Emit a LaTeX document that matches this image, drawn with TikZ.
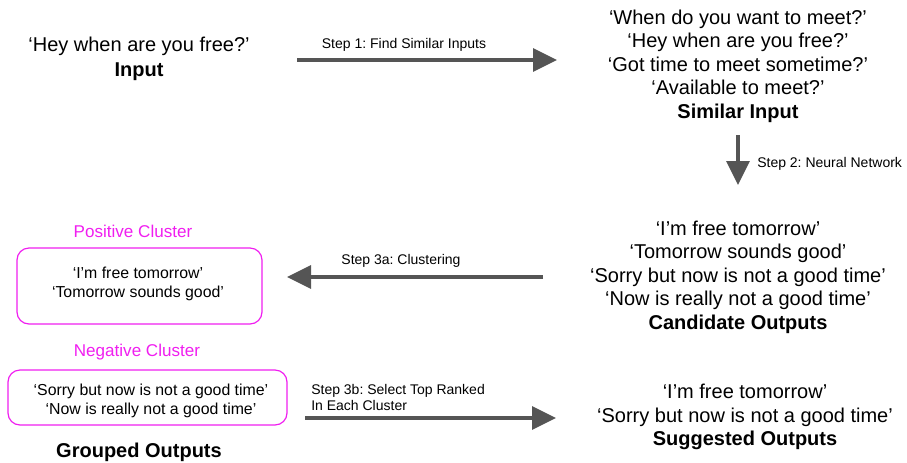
\documentclass[tikz,border=0pt]{standalone}
\usepackage{fontspec}
\setmainfont{Liberation Sans}
\usetikzlibrary{arrows.meta}
\definecolor{stepgray}{HTML}{555555}
\definecolor{clustpink}{HTML}{F01EF0}
\frenchspacing
\tikzset{
  txt/.style={align=center, font=\fontsize{15}{17.6}\selectfont, inner sep=0pt},
  small/.style={align=left, font=\fontsize{10.5}{12}\selectfont, inner sep=0pt},
  cl/.style={align=center, font=\fontsize{11.9}{13.8}\selectfont, inner sep=0pt},
  cllab/.style={font=\fontsize{12.8}{14}\selectfont, text=clustpink, inner sep=0pt},
  cluster/.style={draw=clustpink, rounded corners=9pt, line width=0.9pt},
  steparrow/.style={draw=stepgray, line width=3pt, -{Triangle[length=18pt,width=17pt]}}
}
\begin{document}
\begin{tikzpicture}[x=0.75pt, y=-0.75pt]
    \useasboundingbox (0,0) rectangle (907,462);
    \node[txt] (inp) at (139,46) {`Hey when are you free?'};
    \node[txt] (inplab) at (139,72) {\textbf{Input}};
    \node[txt] (sim) at (738,66) {`When do you want to meet?'\\ `Hey when are you free?'\\ `Got time to meet sometime?'\\ `Available to meet?'\\ \textbf{Similar Input}};
    \node[txt] (cand) at (738,277) {`I'm free tomorrow'\\ `Tomorrow sounds good'\\ `Sorry but now is not a good time'\\ `Now is really not a good time'\\ \textbf{Candidate Outputs}};
    \node[txt] (sugg) at (745,417) {`I'm free tomorrow'\\ `Sorry but now is not a good time'\\ \textbf{Suggested Outputs}};
    % clusters
    \node[cllab] (poslab) at (133,231) {Positive Cluster};
    \draw[cluster] (17,248) rectangle (262,324);
    \node[cl] (pos) at (138,284) {`I'm free tomorrow'\\ `Tomorrow sounds good'};
    \node[cllab] (neglab) at (137,352) {Negative Cluster};
    \draw[cluster] (8,370) rectangle (287,425);
    \node[cl] (neg) at (151,401) {`Sorry but now is not a good time'\\ `Now is really not a good time'};
    \node[txt] (grp) at (139,452) {\textbf{Grouped Outputs}};
    % arrows
    \coordinate (a1s) at (297,60); \coordinate (a1e) at (557,60);
    \coordinate (a2s) at (738,135); \coordinate (a2e) at (738,185);
    \coordinate (a3s) at (543,277); \coordinate (a3e) at (287,277);
    \coordinate (a4s) at (305,418); \coordinate (a4e) at (556,418);
    \draw[steparrow] (a1s) -- (a1e);
    \draw[steparrow] (a2s) -- (a2e);
    \draw[steparrow] (a3s) -- (a3e);
    \draw[steparrow] (a4s) -- (a4e);
    \node[small] (s1) at (404,45) {Step 1: Find Similar Inputs};
    \node[small, anchor=west] (s2) at (757,164) {Step 2: Neural Network};
    \node[small] (s3) at (401,261) {Step 3a: Clustering};
    \node[small, anchor=west] (s4) at (311,397) {Step 3b: Select Top Ranked\\In Each Cluster};
\end{tikzpicture}
\end{document}
